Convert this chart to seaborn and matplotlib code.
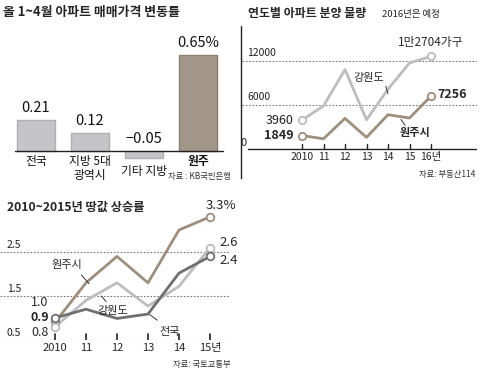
import seaborn as sns
import matplotlib.pyplot as plt
import pandas as pd

# --- data ---
bar_labels = ["전국", "지방 5대\n광역시", "기타 지방", "원주"]
bar_values = [0.21, 0.12, -0.05, 0.65]
bar_texts = ["0.21", "0.12", "−0.05", "0.65%"]

supply_years = [2010, 2011, 2012, 2013, 2014, 2015, 2016]
supply_gangwon = [3960, 5900, 10900, 4000, 8200, 11800, 12704]
supply_wonju = [1849, 1400, 4200, 1600, 4700, 4250, 7256]
supply_ticks = ["2010", "11", "12", "13", "14", "15", "16년"]

land_years = [2010, 2011, 2012, 2013, 2014, 2015]
land_wonju = [0.9, 1.8, 2.4, 1.8, 3.0, 3.3]
land_gangwon = [0.8, 1.4, 1.8, 1.27, 1.72, 2.6]
land_national = [1.0, 1.2, 0.99, 1.09, 2.02, 2.4]
land_ticks = ["2010", "11", "12", "13", "14", "15년"]

sns.set_theme(style="white")
plt.rcParams["font.family"] = ["Noto Sans CJK KR", "DejaVu Sans"]
plt.rcParams["axes.unicode_minus"] = False

W, H = 480, 376
fig = plt.figure(figsize=(4.8, 3.76), dpi=100)


def box(x0, y0, x1, y1):
    # pixel box (top-left origin) -> figure coords
    return [x0 / W, 1 - y1 / H, (x1 - x0) / W, (y1 - y0) / H]


def px(x, y):
    return x / W, 1 - y / H


GRAY = "#c5c5c8"
BROWN = "#a69684"
LGRAY = "#bdbdbd"
LBROWN = "#9f8e7b"
DGRAY = "#6f6f6f"

# =======================================
# panel 1: bar chart
# =======================================
ax1 = fig.add_axes(box(9, 40, 225, 170))
df1 = pd.DataFrame({"cat": bar_labels, "val": bar_values})
sns.barplot(data=df1, x="cat", y="val", hue="cat", palette=[GRAY, GRAY, GRAY, BROWN],
            width=0.7, legend=False, ax=ax1, linewidth=1)
for p, ec in zip(ax1.patches, ["#b0b0b3", "#b0b0b3", "#b0b0b3", "#8e7e6c"]):
    p.set_edgecolor(ec)
ax1.set_xlim(-0.5, 3.5)
ax1.set_ylim(-0.1286, 0.7515)
ax1.axhline(0, xmin=0.028, xmax=0.99, color="#222222", lw=1)
ax1.axis("off")
for i, (v, t) in enumerate(zip(bar_values, bar_texts)):
    ax1.text(i, max(v, 0) + 0.08, t, ha="center", va="center", fontsize=10.5,
             color="#111111")
for i, lab in enumerate(bar_labels):
    y = -0.095 if bar_values[i] < 0 else -0.03
    ax1.text(i, y, lab, ha="center", va="top", fontsize=8.5, linespacing=1.05,
             fontweight="bold" if i == 3 else "normal", color="#111111")
fig.text(*px(3, 12), "올 1~4월 아파트 매매가격 변동률", fontsize=9.3, fontweight="bold",
         va="center", ha="left")
fig.text(*px(231, 176), "자료 : KB국민은행", fontsize=6, va="center", ha="right",
         color="#333333")

# =======================================
# panel 2: supply lines
# =======================================
ax2 = fig.add_axes(box(242, 30, 477, 149))
ax2.set_xlim(2007.21, 2018.14)
ax2.set_ylim(0, 16320)
ax2.axis("off")
for yv in [6000, 12000]:
    ax2.axhline(yv, color="#777777", lw=0.8, ls=(0, (1.5, 1.5)))
    ax2.text(2007.45, yv + 500, str(yv), fontsize=7.5, va="bottom", ha="left",
             color="#222222")
ax2.text(2007.15, 800, "0", fontsize=8, va="center", ha="left", color="#222222")
sns.lineplot(x=supply_years, y=supply_gangwon, color=LGRAY, lw=2, ax=ax2)
sns.lineplot(x=supply_years, y=supply_wonju, color=LBROWN, lw=2, ax=ax2)
for ys, c in [(supply_gangwon, LGRAY), (supply_wonju, LBROWN)]:
    ax2.scatter([supply_years[0], supply_years[-1]], [ys[0], ys[-1]], s=28,
                facecolor="white", edgecolor=c, linewidth=1.3, zorder=5)
ax2.text(2009.6, supply_gangwon[0], "3960", fontsize=9, ha="right", va="center",
         color="#222222")
ax2.text(2009.6, supply_wonju[0], "1849", fontsize=9, ha="right", va="center",
         fontweight="bold")
ax2.text(2016.3, supply_wonju[-1] + 200, "7256", fontsize=9, ha="left", va="center",
         fontweight="bold")
ax2.text(2016.0, 14600, "1만2704가구", fontsize=8.5, ha="center", va="center")
ax2.text(2013.1, 9800, "강원도", fontsize=8, ha="center", va="center")
ax2.plot([2013.9, 2014.0], [8600, 7600], color="#333333", lw=0.7)
ax2.text(2015.25, 2300, "원주시", fontsize=8, ha="center", va="center",
         fontweight="bold")
ax2.plot([2014.6, 2014.8], [4050, 3250], color="#333333", lw=0.7)

fig.add_artist(plt.Line2D([248 / W, 476 / W], [1 - 149 / H, 1 - 149 / H],
                          color="#222222", lw=1))
for i, yr in enumerate(supply_years):
    xp = 302 + 21.5 * i
    fig.add_artist(plt.Line2D([xp / W, xp / W], [1 - 149 / H, 1 - 144 / H],
                              color="#222222", lw=1))
    fig.text(*px(xp, 157), supply_ticks[i], fontsize=7.5, ha="center", va="center")
fig.add_artist(plt.Line2D([241 / W, 241 / W], [1 - 26 / H, 1 - 178 / H],
                          color="#222222", lw=1))
fig.text(*px(248, 14), "연도별 아파트 분양 물량", fontsize=8.6, fontweight="bold",
         va="center", ha="left")
fig.text(*px(382, 14), "2016년은 예정", fontsize=6.8, va="center", ha="left",
         color="#222222")
fig.text(*px(475, 174), "자료: 부동산114", fontsize=6, va="center", ha="right",
         color="#333333")

# =======================================
# panel 3: land price lines
# =======================================
ax3 = fig.add_axes(box(0, 210, 232, 340))
ax3.set_xlim(2008.226, 2015.71)
ax3.set_ylim(0.5, 3.455)
ax3.axis("off")
for yv in [0.5, 1.5, 2.5]:
    ax3.axhline(yv, xmax=0.99, color="#777777", lw=0.8, ls=(0, (1.5, 1.5)))
    ax3.text(2008.45, yv + 0.04, f"{yv}", fontsize=7.5, va="bottom", ha="left",
             color="#222222")
for i, yr in enumerate(land_years):
    ax3.plot([yr, yr], [0.5, 0.64], color="#222222", lw=1.2)
    ax3.text(yr, 0.32, land_ticks[i], fontsize=8, ha="center", va="center")
sns.lineplot(x=land_years, y=land_wonju, color=LBROWN, lw=2, ax=ax3)
sns.lineplot(x=land_years, y=land_gangwon, color=LGRAY, lw=2, ax=ax3)
sns.lineplot(x=land_years, y=land_national, color=DGRAY, lw=2, ax=ax3)
for ys, c in [(land_wonju, LBROWN), (land_gangwon, LGRAY), (land_national, DGRAY)]:
    ax3.scatter([land_years[0], land_years[-1]], [ys[0], ys[-1]], s=30,
                facecolor="white", edgecolor=c, linewidth=1.3, zorder=5)
ax3.text(2009.8, 1.35, "1.0", fontsize=9, ha="right", va="center")
ax3.text(2009.8, 1.02, "0.9", fontsize=9, ha="right", va="center", fontweight="bold")
ax3.text(2009.8, 0.66, "0.8", fontsize=9, ha="right", va="center")
ax3.text(2015.35, 3.56, "3.3%", fontsize=9.5, ha="center", va="center")
ax3.text(2015.3, 2.72, "2.6", fontsize=9.5, ha="left", va="center")
ax3.text(2015.3, 2.3, "2.4", fontsize=9.5, ha="left", va="center")
ax3.text(2010.4, 2.2, "원주시", fontsize=8, ha="center", va="center")
ax3.plot([2010.85, 2011.1], [1.98, 1.78], color="#333333", lw=0.7)
ax3.text(2011.85, 1.17, "강원도", fontsize=8, ha="center", va="center")
ax3.plot([2011.65, 2011.5], [1.37, 1.5], color="#333333", lw=0.7)
ax3.text(2013.7, 0.68, "전국", fontsize=8, ha="center", va="center")
ax3.plot([2013.3, 2013.05], [0.95, 1.08], color="#333333", lw=0.7)
fig.text(*px(7, 207), "2010~2015년 땅값 상승률", fontsize=8.8, fontweight="bold",
         va="center", ha="left")
fig.text(*px(231, 364), "자료: 국토교통부", fontsize=6, va="center", ha="right",
         color="#333333")

fig.savefig("out.png", dpi=100)
